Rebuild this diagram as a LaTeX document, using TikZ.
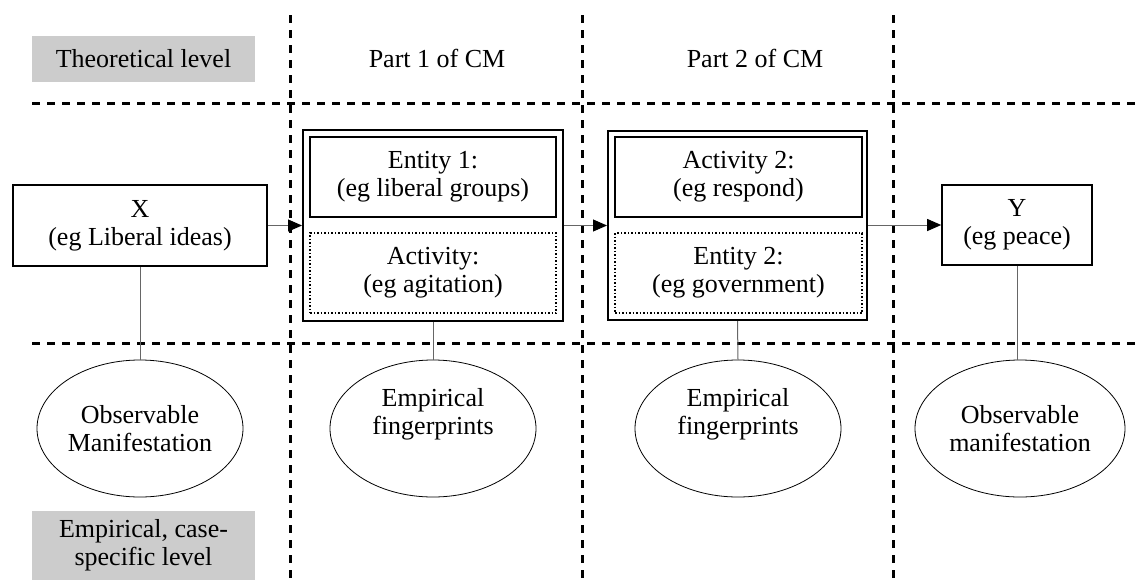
\documentclass[tikz,border=0pt]{standalone}
\usepackage{fontspec}
\setmainfont{Liberation Serif}
\usetikzlibrary{arrows.meta,shapes.geometric}
\begin{document}
\begin{tikzpicture}[x=1pt,y=-1pt,
  every node/.style={font=\fontsize{26}{28}\selectfont, align=center, inner sep=0pt},
  grid/.style={line width=3pt, dash pattern=on 8pt off 7pt},
  levelbox/.style={fill=black!20, minimum width=223pt, minimum height=46pt},
  plainbox/.style={draw, line width=1.6pt},
  partbox/.style={draw, line width=2pt},
  innerbox/.style={draw, line width=2pt, minimum width=246pt, minimum height=80pt},
  dotbox/.style={draw, line width=1.5pt, dotted, minimum width=246pt, minimum height=80pt},
  obs/.style={draw, ellipse, line width=0.8pt, minimum width=206pt, minimum height=137pt},
  link/.style={draw=black!60, line width=1pt},
  flow/.style={draw=black!60, line width=1pt, -{Triangle[length=14pt,width=12pt,fill=black,color=black]}}
]
\useasboundingbox (0,0) rectangle (1138,579);

% dashed grid separating levels and parts
\draw[grid] (32,103) -- (1138,103);
\draw[grid] (32,343) -- (1138,343);
\draw[grid] (290,15) -- (290,579);
\draw[grid] (582,15) -- (582,579);
\draw[grid] (893,15) -- (893,579);

% level labels
\node[levelbox] (theo) at (143.5,59) {Theoretical level};
\node[levelbox, minimum height=69pt] (emp) at (143.5,545) {Empirical, case-\\specific level};

% column headings
\node (part1) at (437,58) {Part 1 of CM};
\node (part2) at (755,58) {Part 2 of CM};

% cause and outcome
\node[plainbox, minimum width=254pt, minimum height=81pt] (X) at (140,225.5) {X\\(eg Liberal ideas)};
\node[plainbox, minimum width=150pt, minimum height=80pt] (Y) at (1017,225) {Y\\(eg peace)};

% part 1 of the mechanism
\node[partbox, minimum width=260pt, minimum height=191pt] (p1) at (433,225.5) {};
\node[innerbox] (ent1) at (433,177) {Entity 1:\\(eg liberal groups)};
\node[dotbox] (act1) at (433,273) {Activity:\\(eg agitation)};

% part 2 of the mechanism
\node[partbox, minimum width=259pt, minimum height=189pt] (p2) at (737.5,225.5) {};
\node[innerbox, minimum width=247pt] (act2) at (738.5,177) {Activity 2:\\(eg respond)};
\node[dotbox, minimum width=247pt] (ent2) at (738.5,273) {Entity 2:\\(eg government)};

% empirical observations
\node[obs] (o1) at (140,428.5) {Observable\\Manifestation};
\node[obs] (o2) at (433,428.5) {};
\node (o2t) at (433,414) {Empirical\\fingerprints};
\node[obs] (o3) at (738,428.5) {};
\node (o3t) at (738,414) {Empirical\\fingerprints};
\node[obs, minimum width=210pt] (o4) at (1020,428.5) {Observable\\manifestation};

% causal flow
\draw[flow] (X.east) -- (p1.west);
\draw[flow] (p1.east) -- (p2.west);
\draw[flow] (p2.east |- Y.west) -- (Y.west);

% links to the empirical level
\draw[link] (X.south) -- (o1.north);
\draw[link] (p1.south) -- (o2.north);
\draw[link] (p2.south) -- (o3.north);
\draw[link] (Y.south) -- (Y.south |- o4.north);
\end{tikzpicture}
\end{document}
